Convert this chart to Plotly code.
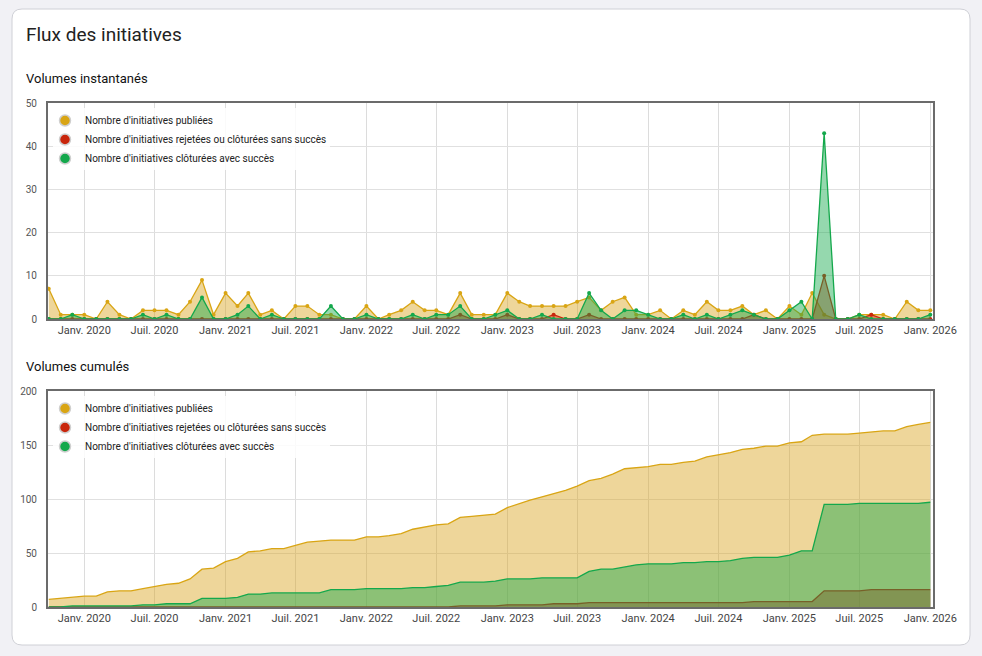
import numpy as np
import pandas as pd
import plotly.graph_objects as go

# monthly points, Oct 2019 -> Jan 2026
months = pd.date_range("2019-10-01", periods=76, freq="MS")

published = [7, 1, 1, 1, 0, 4, 1, 0, 2, 2,
             2, 1, 4, 9, 1, 6, 3, 6, 1, 2,
             0, 3, 3, 1, 1, 0, 0, 3, 0, 1,
             2, 4, 2, 2, 1, 6, 1, 1, 1, 6,
             4, 3, 3, 3, 3, 4, 5, 2, 4, 5,
             1, 1, 2, 0, 2, 1, 4, 2, 2, 3,
             1, 2, 0, 3, 1, 6, 1, 0, 0, 1,
             1, 1, 0, 4, 2, 2]
rejected = [0, 0, 0, 0, 0, 0, 0, 0, 0, 0,
            0, 0, 0, 0, 0, 0, 0, 0, 0, 0,
            0, 0, 0, 0, 0, 0, 0, 0, 0, 0,
            0, 0, 0, 0, 0, 1, 0, 0, 0, 1,
            0, 0, 0, 1, 0, 0, 1, 0, 0, 0,
            0, 0, 0, 0, 0, 0, 0, 0, 0, 0,
            1, 0, 0, 0, 0, 0, 10, 0, 0, 0,
            1, 0, 0, 0, 0, 0]
succeeded = [0, 0, 1, 0, 0, 0, 0, 0, 1, 0,
             1, 0, 0, 5, 0, 0, 1, 3, 0, 1,
             0, 0, 0, 0, 3, 0, 0, 1, 0, 0,
             0, 1, 0, 1, 1, 3, 0, 0, 1, 2,
             0, 0, 1, 0, 0, 0, 6, 2, 0, 2,
             2, 1, 0, 0, 1, 0, 1, 0, 1, 2,
             1, 0, 0, 2, 4, 0, 43, 0, 0, 1,
             0, 0, 0, 0, 0, 1]

series_names = ["Nombre d'initiatives publiées",
                "Nombre d'initiatives rejetées ou clôturées sans succès",
                "Nombre d'initiatives clôturées avec succès"]
line_colors = ["#d9a514", "#c9260c", "#14a84c"]
fill_colors = ["rgba(218,165,32,0.45)", "rgba(200,37,10,0.45)", "rgba(20,168,76,0.45)"]

tick_dates = pd.date_range("2020-01-01", "2026-01-01", freq="6MS")
tick_text = ["Janv. 2020", "Juil. 2020", "Janv. 2021", "Juil. 2021", "Janv. 2022",
             "Juil. 2022", "Janv. 2023", "Juil. 2023", "Janv. 2024", "Juil. 2024",
             "Janv. 2025", "Juil. 2025", "Janv. 2026"]

W, H = 982, 656
def px(x):
    return x / W
def py(y):
    return 1 - y / H

def rounded_box(left, top, right, bottom, r):
    # rounded rectangle path in paper coords, from pixel positions
    rx, ry = r / W, r / H
    x0, x1, y0, y1 = px(left), px(right), py(bottom), py(top)
    return (f"M {x0+rx},{y0} L {x1-rx},{y0} Q {x1},{y0} {x1},{y0+ry} L {x1},{y1-ry} "
            f"Q {x1},{y1} {x1-rx},{y1} L {x0+rx},{y1} Q {x0},{y1} {x0},{y1-ry} "
            f"L {x0},{y0+ry} Q {x0},{y0} {x0+rx},{y0} Z")

fig = go.Figure()

instant = [published, rejected, succeeded]
for name, vals, lc, fc in zip(series_names, instant, line_colors, fill_colors):
    fig.add_trace(go.Scatter(x=months, y=vals, mode="lines+markers", fill="tozeroy",
                             fillcolor=fc, line=dict(color=lc, width=1.3),
                             marker=dict(size=4, color=lc), showlegend=False,
                             xaxis="x", yaxis="y", name=name))

for name, vals, lc, fc in zip(series_names, instant, line_colors, fill_colors):
    fig.add_trace(go.Scatter(x=months, y=np.cumsum(vals), mode="lines", fill="tozeroy",
                             fillcolor=fc, line=dict(color=lc, width=1.3),
                             showlegend=False, xaxis="x2", yaxis="y2", name=name))

# legend entries (circle swatches)
for leg, xa, ya in [("legend", "x", "y"), ("legend2", "x2", "y2")]:
    for name, lc in zip(series_names, line_colors):
        fig.add_trace(go.Scatter(x=[None], y=[None], mode="markers", name=name,
                                 marker=dict(size=11, color=lc, line=dict(color="#cfcfcf", width=1.5)),
                                 legend=leg, xaxis=xa, yaxis=ya))

xrange = ["2019-09-29", "2026-01-08"]
xcommon = dict(type="date", range=xrange, tickvals=tick_dates, ticktext=tick_text,
               showgrid=True, gridcolor="#dcdcdc", gridwidth=1, showline=True, mirror=True,
               linecolor="#6b6b6b", linewidth=2, ticks="", zeroline=False, automargin=False,
               tickfont=dict(size=11, color="#444444"), fixedrange=True)
ycommon = dict(showgrid=True, gridcolor="#e0e0e0", gridwidth=1, showline=True, mirror=True,
               linecolor="#6b6b6b", linewidth=2, ticks="", zeroline=False, automargin=False,
               tickfont=dict(size=10, color="#555555"), ticklabelstandoff=7, fixedrange=True)

legend_style = dict(bgcolor="rgba(0,0,0,0)", borderwidth=0,
                    font=dict(size=10, color="#222222"), xanchor="left", yanchor="top",
                    itemsizing="trace", itemwidth=30, tracegroupgap=0)

fig.update_layout(
    width=W, height=H,
    margin=dict(l=0, r=0, t=0, b=0, pad=0),
    paper_bgcolor="#f1f1f5",
    plot_bgcolor="#f8f8f8",
    font=dict(family="Roboto, Arial, sans-serif", color="#333333"),
    xaxis=dict(domain=[px(48), px(933)], anchor="y", **xcommon),
    yaxis=dict(domain=[py(319), py(103)], anchor="x", range=[0, 50], dtick=10, **ycommon),
    xaxis2=dict(domain=[px(48), px(933)], anchor="y2", **xcommon),
    yaxis2=dict(domain=[py(607), py(391)], anchor="x2", range=[0, 200], dtick=50, **ycommon),
    legend=dict(x=px(45), y=py(106), **legend_style),
    legend2=dict(x=px(45), y=py(394), **legend_style),
    shapes=[
        dict(type="path", path=rounded_box(12, 9, 970, 645, 10), xref="paper", yref="paper",
             fillcolor="#ffffff", line=dict(color="#cfd0d6", width=1), layer="below"),
        dict(type="path", path=rounded_box(53, 108, 330, 170, 4), xref="paper", yref="paper",
             fillcolor="rgba(255,255,255,0.85)", line=dict(width=0), layer="above"),
        dict(type="path", path=rounded_box(53, 396, 330, 458, 4), xref="paper", yref="paper",
             fillcolor="rgba(255,255,255,0.85)", line=dict(width=0), layer="above"),
    ],
    annotations=[
        dict(text="Flux des initiatives", x=px(24), y=py(35), xref="paper", yref="paper",
             xanchor="left", yanchor="middle", showarrow=False,
             font=dict(size=19, color="#222222")),
        dict(text="Volumes instantanés", x=px(24), y=py(78), xref="paper", yref="paper",
             xanchor="left", yanchor="middle", showarrow=False,
             font=dict(size=13, color="#111111")),
        dict(text="Volumes cumulés", x=px(24), y=py(366), xref="paper", yref="paper",
             xanchor="left", yanchor="middle", showarrow=False,
             font=dict(size=13, color="#111111")),
    ],
    hovermode="x unified",
)

fig.write_html("out.html", config={"displayModeBar": False},
               post_script="document.body.style.margin='0';document.body.style.overflow='hidden';")
